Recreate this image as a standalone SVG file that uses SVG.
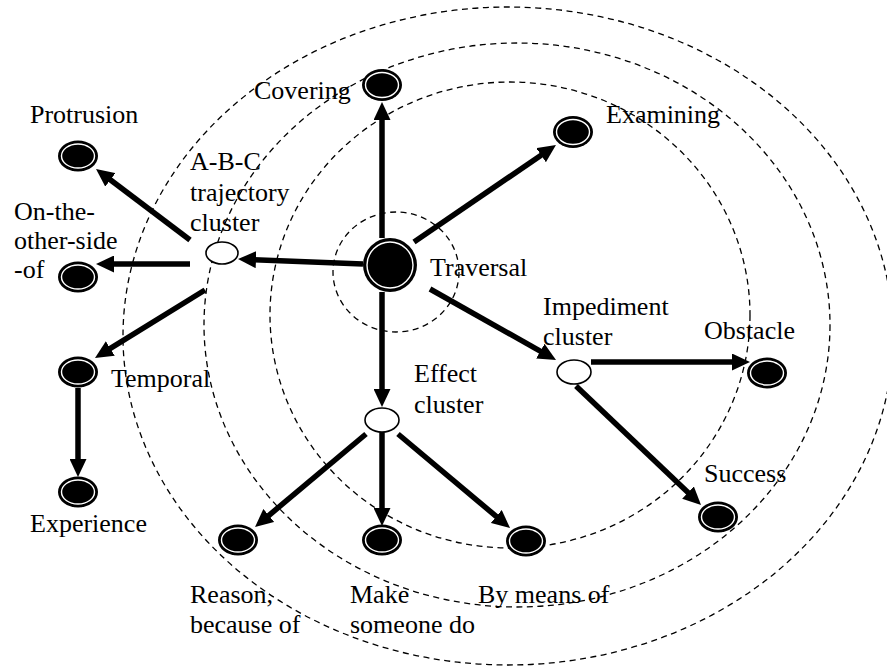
<svg xmlns="http://www.w3.org/2000/svg" width="887" height="668" viewBox="0 0 887 668">
<defs>
<style>
.ring{fill:none;stroke:#000;stroke-width:1.3;stroke-dasharray:6 4.5}
.arr{stroke:#000;stroke-width:5.5;fill:none;marker-end:url(#ah)}
.node{fill:#000}
.inner{fill:none;stroke:#fff;stroke-width:1.4}
.open{fill:#fff;stroke:#000;stroke-width:1.6}
.lbl{font-family:'Liberation Serif','DejaVu Serif',serif;font-size:26px;fill:#000}
</style>
<marker id="ah" viewBox="0 0 18 17" refX="8" refY="8.5" markerWidth="18" markerHeight="17" markerUnits="userSpaceOnUse" orient="auto">
<path d="M0,0 L18,8.5 L0,17 z" fill="#000"/>
</marker>
</defs>
<rect width="887" height="668" fill="#fff"/>
<g id="rings">
<ellipse class="ring" cx="508" cy="336" rx="385" ry="329"/>
<ellipse class="ring" cx="517" cy="325" rx="313" ry="282"/>
<ellipse class="ring" cx="510" cy="315" rx="240" ry="233"/>
<ellipse class="ring" cx="396" cy="272" rx="63" ry="60"/>
</g>
<g id="connectors">
<line class="arr" x1="382" y1="238" x2="382" y2="112"/>
<line class="arr" x1="414" y1="242" x2="547.7" y2="150.7"/>
<line class="arr" x1="430" y1="289" x2="547.3" y2="355.1"/>
<line class="arr" x1="363" y1="264" x2="248" y2="259.4"/>
<line class="arr" x1="382" y1="292" x2="382" y2="397"/>
<line class="arr" x1="190" y1="240" x2="104" y2="175"/>
<line class="arr" x1="190" y1="264" x2="106" y2="264"/>
<line class="arr" x1="205" y1="290" x2="103.5" y2="352.7"/>
<line class="arr" x1="78" y1="388" x2="78" y2="467"/>
<line class="arr" x1="366" y1="434" x2="262.7" y2="520.6"/>
<line class="arr" x1="382" y1="432" x2="382" y2="516"/>
<line class="arr" x1="398" y1="434" x2="502.4" y2="521.6"/>
<line class="arr" x1="591" y1="362" x2="740" y2="362"/>
<line class="arr" x1="576" y1="386" x2="693.8" y2="498.1"/>
</g>
<g id="traversal"><circle class="node" cx="390" cy="265" r="27"/><circle class="inner" cx="390" cy="265" r="23"/><text class="lbl" x="430" y="276">Traversal</text></g>
<g id="covering"><ellipse class="node" cx="382" cy="85" rx="20" ry="16"/><ellipse class="inner" cx="382" cy="85" rx="16.5" ry="12.5"/><text class="lbl" x="254" y="99">Covering</text></g>
<g id="examining"><ellipse class="node" cx="573" cy="132" rx="20" ry="16"/><ellipse class="inner" cx="573" cy="132" rx="16.5" ry="12.5"/><text class="lbl" x="606" y="123">Examining</text></g>
<g id="protrusion"><ellipse class="node" cx="78" cy="156" rx="20" ry="15.5"/><ellipse class="inner" cx="78" cy="156" rx="16.5" ry="12"/><text class="lbl" x="30" y="123">Protrusion</text></g>
<g id="abc-cluster"><ellipse class="open" cx="222" cy="253" rx="16" ry="11"/><text class="lbl" x="190" y="170">A-B-C</text><text class="lbl" x="190" y="201">trajectory</text><text class="lbl" x="190" y="231">cluster</text></g>
<g id="other-side"><ellipse class="node" cx="78" cy="277" rx="20" ry="15.5"/><ellipse class="inner" cx="78" cy="277" rx="16.5" ry="12"/><text class="lbl" x="14" y="220">On-the-</text><text class="lbl" x="14" y="249">other-side</text><text class="lbl" x="14" y="278">-of</text></g>
<g id="temporal"><ellipse class="node" cx="78" cy="372" rx="20" ry="15.5"/><ellipse class="inner" cx="78" cy="372" rx="16.5" ry="12"/><text class="lbl" x="111" y="387">Temporal</text></g>
<g id="experience"><ellipse class="node" cx="78" cy="492" rx="20" ry="15.5"/><ellipse class="inner" cx="78" cy="492" rx="16.5" ry="12"/><text class="lbl" x="30" y="532">Experience</text></g>
<g id="effect-cluster"><ellipse class="open" cx="382" cy="420" rx="17" ry="12"/><text class="lbl" x="414" y="382">Effect</text><text class="lbl" x="414" y="413">cluster</text></g>
<g id="reason"><ellipse class="node" cx="238" cy="540" rx="20" ry="15.5"/><ellipse class="inner" cx="238" cy="540" rx="16.5" ry="12"/><text class="lbl" x="190" y="603">Reason,</text><text class="lbl" x="190" y="633">because of</text></g>
<g id="make"><ellipse class="node" cx="382" cy="540" rx="20" ry="15.5"/><ellipse class="inner" cx="382" cy="540" rx="16.5" ry="12"/><text class="lbl" x="350" y="603">Make</text><text class="lbl" x="350" y="633">someone do</text></g>
<g id="by-means"><ellipse class="node" cx="526" cy="541" rx="20" ry="15.5"/><ellipse class="inner" cx="526" cy="541" rx="16.5" ry="12"/><text class="lbl" x="478" y="603">By means of</text></g>
<g id="impediment-cluster"><ellipse class="open" cx="574" cy="372" rx="17" ry="12"/><text class="lbl" x="543" y="315">Impediment</text><text class="lbl" x="543" y="345">cluster</text></g>
<g id="obstacle"><ellipse class="node" cx="767" cy="373" rx="20" ry="15.5"/><ellipse class="inner" cx="767" cy="373" rx="16.5" ry="12"/><text class="lbl" x="704" y="339">Obstacle</text></g>
<g id="success"><ellipse class="node" cx="718" cy="517" rx="20" ry="15.5"/><ellipse class="inner" cx="718" cy="517" rx="16.5" ry="12"/><text class="lbl" x="704" y="482">Success</text></g>
</svg>
